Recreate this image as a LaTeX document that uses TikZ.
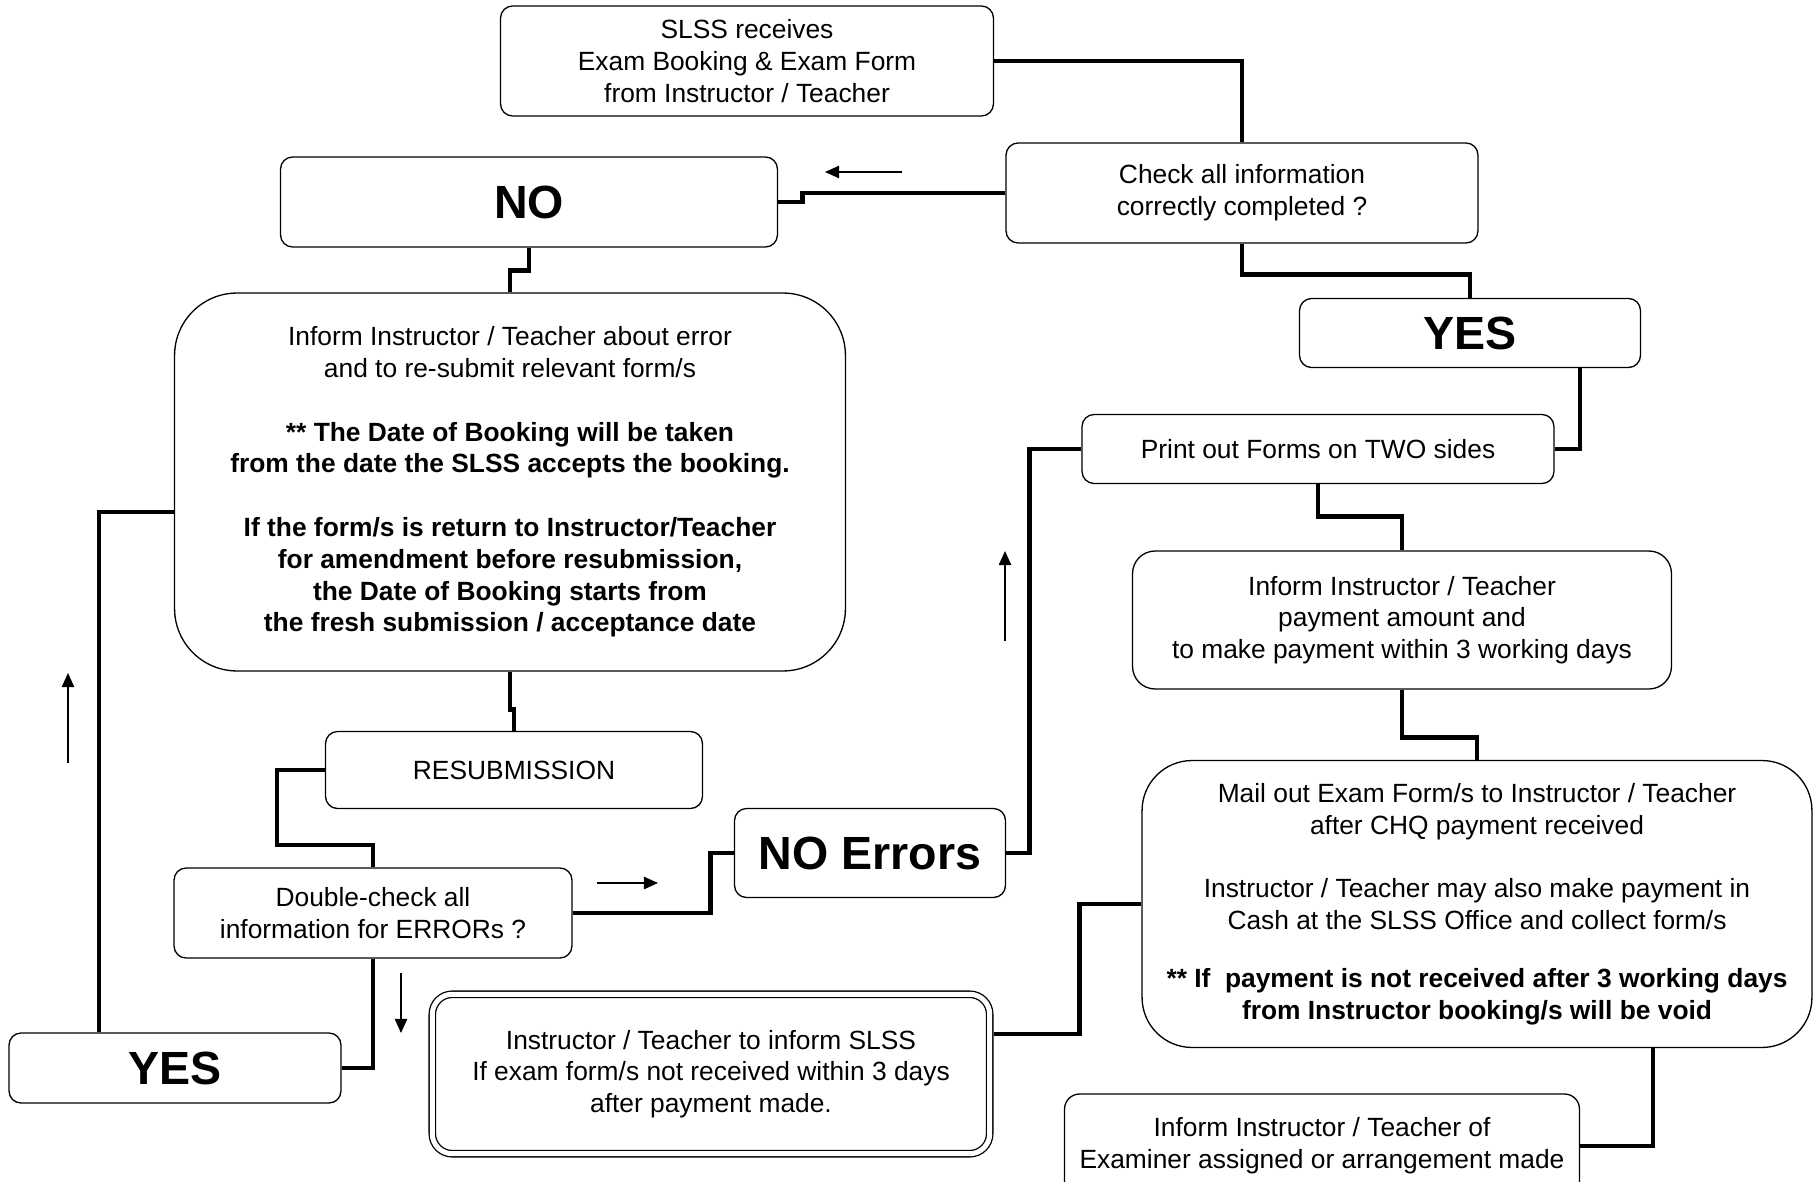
\documentclass[tikz,border=0pt]{standalone}
\usepackage{fontspec}
\setmainfont{Liberation Sans}
\usetikzlibrary{calc,arrows.meta}

\begin{document}
\begin{tikzpicture}[x=0.02cm,y=-0.02cm,>={Triangle[length=8pt,width=7pt]},
		box/.style={draw,line width=0.75pt,rounded corners=0.24cm,align=center,inner sep=0pt,font=\fontsize{15}{18.1}\selectfont},
		bigbox/.style={box,font=\fontsize{26.5}{30}\selectfont\bfseries},
		link/.style={line width=2.7pt},
		hint/.style={->,line width=0.9pt}]
		% Fix the page size
		\useasboundingbox (0,0) rectangle (1818,1182);
		\clip (0,0) rectangle (1818,1182);
		
		% Define the boxes
		\node[box,minimum width=9.86cm,minimum height=2.2cm] (start) at (747,61) {SLSS receives\\Exam Booking \& Exam Form\\from Instructor / Teacher};
		\node[box,minimum width=9.44cm,minimum height=2cm] (check) at (1242,193) {Check all information\\correctly completed ?};
		\node[bigbox,minimum width=9.94cm,minimum height=1.8cm] (no) at (529,202) {NO};
		\node[bigbox,minimum width=6.82cm,minimum height=1.38cm] (yesr) at (1470,333) {YES};
		\node[box,rounded corners=1.25cm,minimum width=13.42cm,minimum height=7.56cm] (err) at (510,482) {Inform Instructor / Teacher about error\\
			and to re-submit relevant form/s\\[18.1pt]
			\textbf{** The Date of Booking will be taken}\\
			\textbf{from the date the SLSS accepts the booking.}\\[18.1pt]
			\textbf{If the form/s is return to Instructor/Teacher}\\
			\textbf{for amendment before resubmission,}\\
			\textbf{the Date of Booking starts from}\\
			\textbf{the fresh submission / acceptance date}};
		\node[box,minimum width=9.44cm,minimum height=1.38cm] (print) at (1318,449) {Print out Forms on TWO sides};
		\node[box,rounded corners=0.45cm,minimum width=10.78cm,minimum height=2.76cm] (pay) at (1402,620) {Inform Instructor / Teacher\\payment amount and\\to make payment within 3 working days};
		\node[box,minimum width=7.54cm,minimum height=1.54cm] (resub) at (514,770) {RESUBMISSION};
		\node[bigbox,minimum width=5.42cm,minimum height=1.78cm] (noerr) at (870,853) {NO Errors};
		\node[box,minimum width=7.96cm,minimum height=1.8cm] (dc) at (373,913) {Double-check all\\information for ERRORs ?};
		\node[bigbox,minimum width=6.64cm,minimum height=1.4cm] (yesl) at (175,1068) {YES};
		\node[box,double,double distance=0.1cm,rounded corners=0.4cm,minimum width=11.15cm,minimum height=3.19cm] (slss) at (711,1074) {Instructor / Teacher to inform SLSS\\If exam form/s not received within 3 days\\after payment made.};
		\node[box,rounded corners=1cm,minimum width=13.4cm,minimum height=5.74cm] (mail) at (1477,904) {Mail out Exam Form/s to Instructor / Teacher\\
			after CHQ payment received\\[18.1pt]
			Instructor / Teacher may also make payment in\\
			Cash at the SLSS Office and collect form/s\\[14.8pt]
			\textbf{** If~ payment is not received after 3 working days}\\
			\textbf{from Instructor booking/s will be void}};
		\node[box,rounded corners=0.3cm,minimum width=10.3cm,minimum height=2.08cm] (exam) at (1322,1146) {Inform Instructor / Teacher of\\Examiner assigned or arrangement made};
		
		% Draw the thick links
		\draw[link] (start.east) -| (check.north);
		\draw[link] (check.west) -- ++(-203,0) |- (no.east);
		\draw[link] (no.south) -- ++(0,23) -| (err.north);
		\draw[link] (err.south) -- ++(0,38) -| (resub.north);
		\draw[link] (resub.west) -- ++(-48,0) -- ++(0,75) -| (dc.north);
		\draw[link] (dc.east) -- ++(138,0) |- (noerr.west);
		\draw[link] (noerr.east) -- ++(23,0) |- (print.west);
		\draw[link] (check.south) -- ++(0,31) -| (yesr.north);
		\draw[link] ($(yesr.south)+(110,0)$) |- (print.east);
		\draw[link] (print.south) -- ++(0,32) -| (pay.north);
		\draw[link] (pay.south) -- ++(0,48) -| (mail.north);
		\draw[link] (mail.west) -- ++(-62,0) |- ($(slss.east)+(4,-40)$);
		\draw[link] ($(mail.south)+(176,0)$) |- (exam.east);
		\draw[link] (dc.south) |- (yesl.east);
		\draw[link] ($(yesl.north)+(-76,0)$) |- ($(err.west)+(0,30)$);
		
		% Define the direction marks
		\coordinate (hNoA) at (902,172);
		\coordinate (hNoB) at (825,172);
		\coordinate (hOkA) at (597,883);
		\coordinate (hOkB) at (658,883);
		\coordinate (hUpA) at (1005,641);
		\coordinate (hUpB) at (1005,551);
		\coordinate (hDnA) at (401,973);
		\coordinate (hDnB) at (401,1033);
		\coordinate (hBkA) at (68,763);
		\coordinate (hBkB) at (68,673);
		
		% Draw the direction marks
		\draw[hint] (hNoA) -- (hNoB);
		\draw[hint] (hOkA) -- (hOkB);
		\draw[hint] (hUpA) -- (hUpB);
		\draw[hint] (hDnA) -- (hDnB);
		\draw[hint] (hBkA) -- (hBkB);
		
\end{tikzpicture}
\end{document}
